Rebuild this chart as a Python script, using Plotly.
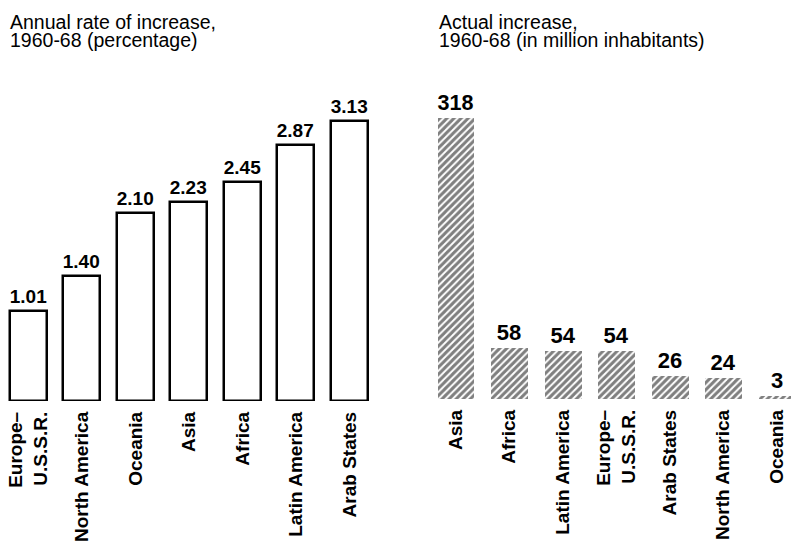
import plotly.graph_objects as go

# ---- data ----
rate_regions = ["Europe–<br>U.S.S.R.", "North America", "Oceania", "Asia",
                "Africa", "Latin America", "Arab States"]
rate_values = [1.01, 1.40, 2.10, 2.23, 2.45, 2.87, 3.13]

incr_regions = ["Asia", "Africa", "Latin America", "Europe–<br>U.S.S.R.",
                "Arab States", "North America", "Oceania"]
incr_values = [318, 58, 54, 54, 26, 24, 3]

left_title = ["Annual rate of increase,", "1960-68 (percentage)"]
right_title = ["Actual increase,", "1960-68 (in million inhabitants)"]

W, H = 791, 542
FONT = "Liberation Sans, Arial, Helvetica, sans-serif"

fig = go.Figure()

fig.add_trace(go.Bar(
    x=rate_regions, y=rate_values, xaxis="x", yaxis="y",
    width=0.69,
    marker=dict(color="white", line=dict(color="black", width=2.5)),
    texttemplate="%{y:.2f}", textposition="outside",
    textfont=dict(family=FONT, size=22, color="black", weight="bold"),
    cliponaxis=False, hoverinfo="skip",
))

fig.add_trace(go.Bar(
    x=incr_regions, y=incr_values, xaxis="x2", yaxis="y2",
    width=0.69,
    marker=dict(color="white",
                pattern=dict(shape="/", fgcolor="black", bgcolor="white",
                             size=5, solidity=0.6),
                line=dict(width=0)),
    texttemplate="%{y}", textposition="outside",
    textfont=dict(family=FONT, size=22, color="black", weight="bold"),
    cliponaxis=False, hoverinfo="skip",
))

axis_common = dict(showgrid=False, zeroline=False, showline=False, ticks="",
                   tickangle=-90, ticklabelstandoff=6,
                   tickfont=dict(family=FONT, size=19, color="black", weight="bold"),
                   fixedrange=True)

annotations = []
for i, line in enumerate(left_title):
    annotations.append(dict(text=line, xref="paper", yref="paper",
                            x=8 / W, y=1 - (9 + 18 * i) / H,
                            xanchor="left", yanchor="top", showarrow=False,
                            font=dict(family=FONT, size=19.5, color="black")))
for i, line in enumerate(right_title):
    annotations.append(dict(text=line, xref="paper", yref="paper",
                            x=437 / W, y=1 - (9 + 18 * i) / H,
                            xanchor="left", yanchor="top", showarrow=False,
                            font=dict(family=FONT, size=19.5, color="black")))

fig.update_layout(
    width=W, height=H,
    margin=dict(l=0, r=0, t=0, b=0),
    paper_bgcolor="white", plot_bgcolor="white",
    showlegend=False,
    bargap=0,
    xaxis=dict(domain=[0, 0.5], range=[-0.529, 6.86], anchor="y", **axis_common),
    yaxis=dict(domain=[(H - 404) / H, 1], range=[0, 404 / 90], visible=False,
               fixedrange=True),
    xaxis2=dict(domain=[0.5, 1], range=[-1.121, 6.268], anchor="y2", **axis_common),
    yaxis2=dict(domain=[(H - 402) / H, 1], range=[0, 402 / 0.89], visible=False,
                fixedrange=True),
    annotations=annotations,
)

fig.write_html("out.html", config={"displayModeBar": False},
               post_script="document.body.style.margin='0';")
